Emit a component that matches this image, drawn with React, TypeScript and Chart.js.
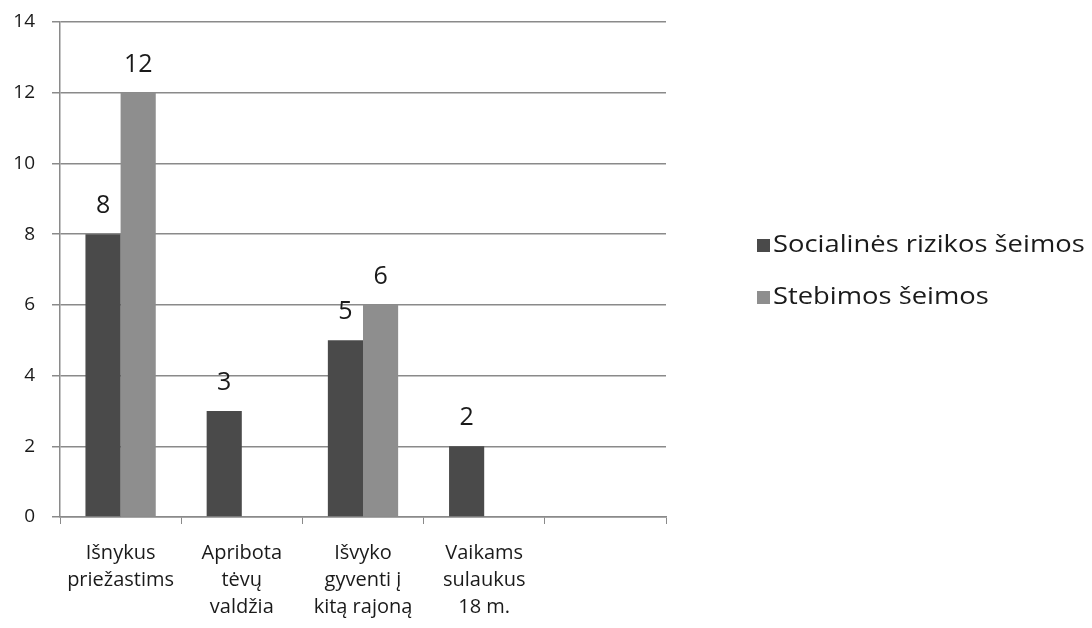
import React, { useEffect, useRef } from "react";
import { Chart, registerables } from "chart.js";

Chart.register(...registerables);

const categories: string[][] = [
  ["Išnykus", "priežastims"],
  ["Apribota", "tėvų", "valdžia"],
  ["Išvyko", "gyventi į", "kitą rajoną"],
  ["Vaikams", "sulaukus", "18 m."],
  [""],
];
const seriesNames = ["Socialinės rizikos šeimos", "Stebimos šeimos"];
const socialinesRizikos: (number | null)[] = [8, 3, 5, 2, null];
const stebimos: (number | null)[] = [12, null, 6, null, null];
const seriesColors = ["#4a4a4a", "#8e8e8e"];

const FONT = "'Open Sans', sans-serif";

const dataLabels = {
  id: "dataLabels",
  afterDatasetsDraw(chart: any) {
    const ctx = chart.ctx;
    ctx.save();
    ctx.font = `25px ${FONT}`;
    ctx.fillStyle = "#1a1a1a";
    ctx.textAlign = "center";
    ctx.textBaseline = "middle";
    chart.data.datasets.forEach((ds: any, di: number) => {
      const meta = chart.getDatasetMeta(di);
      meta.data.forEach((el: any, i: number) => {
        const v = ds.data[i];
        if (v === null || v === undefined) return;
        ctx.fillText(String(v), el.x, el.y - 28);
      });
    });
    ctx.restore();
  },
};

const customLegend = {
  id: "customLegend",
  afterDraw(chart: any) {
    const ctx = chart.ctx;
    ctx.save();
    ctx.font = `24px ${FONT}`;
    ctx.textBaseline = "middle";
    ctx.textAlign = "left";
    const rows = [245, 297];
    chart.data.datasets.forEach((ds: any, i: number) => {
      const y = rows[i];
      ctx.fillStyle = ds.backgroundColor;
      ctx.fillRect(757, y - 6, 13, 13);
      ctx.fillStyle = "#1a1a1a";
      ctx.save();
      ctx.translate(773, y);
      ctx.scale(1.14, 1);
      ctx.fillText(ds.label, 0, 0);
      ctx.restore();
    });
    ctx.restore();
  },
};

export default function App() {
  const ref = useRef<HTMLCanvasElement | null>(null);
  useEffect(() => {
    if (!ref.current) return;
    const chart = new Chart(ref.current, {
      type: "bar",
      data: {
        labels: categories,
        datasets: [
          {
            label: seriesNames[0],
            data: socialinesRizikos,
            backgroundColor: seriesColors[0],
            categoryPercentage: 0.58,
            barPercentage: 1,
          },
          {
            label: seriesNames[1],
            data: stebimos,
            backgroundColor: seriesColors[1],
            categoryPercentage: 0.58,
            barPercentage: 1,
          },
        ],
      },
      options: {
        responsive: false,
        animation: false,
        layout: { padding: { top: 22, right: 426, left: 0, bottom: 0 } },
        plugins: {
          legend: { display: false },
          tooltip: { enabled: false },
        },
        scales: {
          x: {
            grid: {
              display: true,
              drawOnChartArea: false,
              drawTicks: true,
              tickLength: 7,
              color: "#8a8a8a",
              offset: true,
            },
            border: { display: true, color: "#8a8a8a", width: 1.5 },
            ticks: {
              color: "#1a1a1a",
              font: { family: FONT, size: 20, lineHeight: 1.35 },
              padding: 16,
              maxRotation: 0,
              autoSkip: false,
            },
            afterFit(scale: any) {
              scale.height = 111;
              scale.paddingTop = 0;
            },
          },
          y: {
            min: 0,
            max: 14,
            ticks: {
              stepSize: 2,
              color: "#1a1a1a",
              font: { family: FONT, size: 19 },
              padding: 17,
            },
            grid: {
              color: "#8a8a8a",
              lineWidth: 1.5,
              tickLength: 8,
            },
            border: { display: true, color: "#8a8a8a", width: 1.5 },
            afterFit(scale: any) {
              scale.width = 60;
              scale.paddingTop = 0;
              scale.paddingBottom = 0;
            },
          },
        },
      },
      plugins: [dataLabels, customLegend],
    });
    return () => chart.destroy();
  }, []);
  return (
    <div style={{ position: "fixed", left: 0, top: 0, width: 1092, height: 628, background: "#fff" }}>
      <canvas ref={ref} width={1092} height={628} />
    </div>
  );
}
